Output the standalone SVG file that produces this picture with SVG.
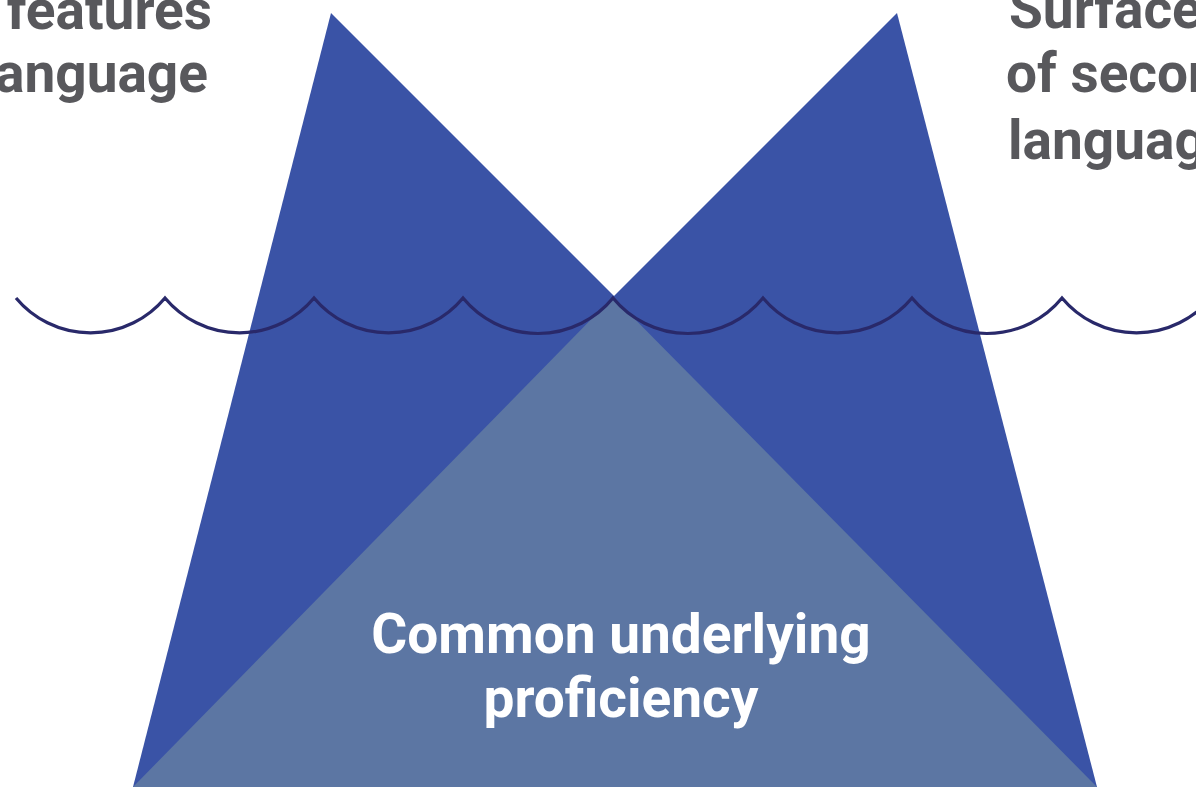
<svg xmlns="http://www.w3.org/2000/svg" width="1196" height="787" viewBox="0 0 1196 787">
<style>
.dark{fill:#3a53a6}
.light{fill:#5c76a3}
.lbl{font-family:Roboto,"Liberation Sans",sans-serif;font-weight:bold;font-size:55px;fill:#58585c}
.inner{font-family:Roboto,"Liberation Sans",sans-serif;font-weight:bold;font-size:55px;fill:#ffffff;text-anchor:middle}
.wave{fill:none;stroke:#29296a;stroke-width:3.2}
</style>
<rect width="1196" height="787" fill="#ffffff"/>
<g id="left-peak"><polygon class="dark" points="331,13 614,296 614,787 133,787"/></g>
<g id="right-peak"><polygon class="dark" points="897,13 1097,787 612,787 612,298"/></g>
<g id="common"><polygon class="light" points="613,297 133,787 1097,787"/>
<text class="inner" x="621" y="653">Common underlying</text>
<text class="inner" x="621" y="717">proficiency</text></g>
<g id="label-left">
<text class="lbl" x="212" y="29" text-anchor="end">features</text>
<text class="lbl" x="208" y="92" text-anchor="end">language</text>
</g>
<g id="label-right">
<text class="lbl" x="1009" y="28">Surface</text>
<text class="lbl" x="1006" y="92">of second</text>
<text class="lbl" x="1008" y="159">language</text>
</g>
<g id="connectors">
<path class="wave" d="M16,298 A97,97 0 0 0 165,298 A97,97 0 0 0 314,298 A97,97 0 0 0 463,298 A97,97 0 0 0 613,298 A97,97 0 0 0 763,298 A97,97 0 0 0 912,298 A97,97 0 0 0 1062,298 A97,97 0 0 0 1211,298"/>
</g>
</svg>
